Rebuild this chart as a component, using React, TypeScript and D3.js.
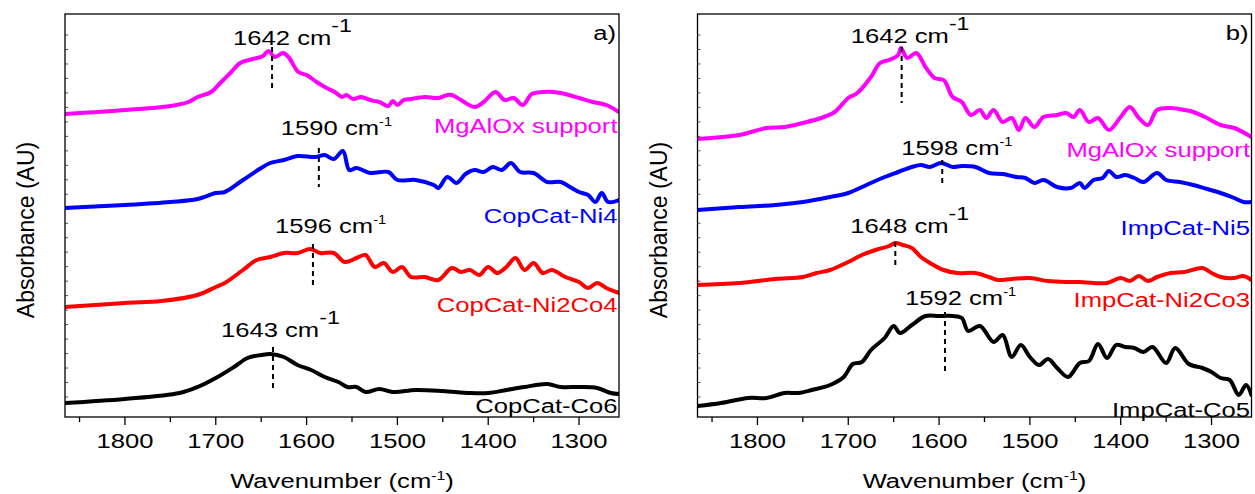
import React from 'react';
import * as d3 from 'd3';

type Pt = [number, number];

// ---------- axis data ----------
const xDomain: [number, number] = [1866, 1256];
const yDomain: [number, number] = [0, 4.03];
const xTicks = [1800, 1700, 1600, 1500, 1400, 1300];
const xMinorTicks = [1850, 1750, 1650, 1550, 1450, 1350];
const yMinorTicks = d3.range(0.2, 3.83, 0.1448);

// ---------- panel a series (wavenumber, absorbance offset) ----------
const aMgAlOx: Pt[] = [[1866,3.03],[1830,3.05],[1800,3.07],[1770,3.09],[1750,3.11],[1730,3.15],[1720,3.20],[1705,3.25],[1695,3.34],[1684,3.44],[1673,3.54],[1659,3.58],[1648,3.61],[1642,3.66],[1635,3.60],[1626,3.64],[1620,3.60],[1609,3.45],[1600,3.42],[1589,3.35],[1578,3.29],[1569,3.25],[1561,3.20],[1556,3.22],[1549,3.18],[1540,3.20],[1530,3.17],[1520,3.15],[1510,3.11],[1505,3.16],[1500,3.12],[1493,3.17],[1485,3.18],[1470,3.20],[1455,3.19],[1445,3.22],[1440,3.22],[1430,3.17],[1415,3.10],[1405,3.15],[1392,3.25],[1382,3.17],[1372,3.19],[1362,3.12],[1352,3.23],[1340,3.25],[1328,3.25],[1315,3.23],[1300,3.19],[1285,3.15],[1270,3.12],[1256,3.05]];
const aNi4: Pt[] = [[1866,2.09],[1800,2.12],[1750,2.15],[1720,2.18],[1700,2.24],[1690,2.25],[1670,2.37],[1650,2.49],[1640,2.54],[1625,2.57],[1610,2.61],[1590,2.60],[1580,2.62],[1570,2.58],[1560,2.66],[1553,2.47],[1545,2.49],[1530,2.44],[1510,2.45],[1500,2.37],[1480,2.37],[1460,2.32],[1455,2.29],[1445,2.40],[1435,2.34],[1425,2.43],[1415,2.47],[1405,2.45],[1395,2.50],[1385,2.47],[1375,2.54],[1365,2.45],[1350,2.44],[1335,2.35],[1320,2.35],[1310,2.30],[1300,2.25],[1290,2.22],[1282,2.15],[1275,2.24],[1268,2.15],[1256,2.17]];
const aNi2Co4: Pt[] = [[1866,1.10],[1800,1.14],[1760,1.16],[1720,1.22],[1700,1.30],[1690,1.34],[1670,1.47],[1655,1.57],[1640,1.60],[1625,1.64],[1610,1.64],[1596,1.68],[1585,1.64],[1570,1.64],[1558,1.55],[1545,1.59],[1535,1.62],[1525,1.50],[1515,1.54],[1505,1.45],[1495,1.50],[1485,1.40],[1470,1.40],[1455,1.37],[1440,1.49],[1430,1.45],[1420,1.47],[1410,1.42],[1400,1.50],[1390,1.44],[1380,1.50],[1370,1.59],[1360,1.47],[1350,1.54],[1340,1.44],[1330,1.47],[1315,1.40],[1300,1.35],[1290,1.29],[1280,1.34],[1270,1.29],[1256,1.24]];
const aCo6: Pt[] = [[1866,0.14],[1800,0.18],[1740,0.24],[1720,0.30],[1700,0.39],[1680,0.50],[1665,0.59],[1650,0.62],[1640,0.63],[1625,0.60],[1610,0.52],[1595,0.47],[1580,0.40],[1565,0.35],[1555,0.30],[1545,0.30],[1535,0.25],[1520,0.28],[1505,0.25],[1480,0.27],[1450,0.26],[1420,0.24],[1400,0.24],[1380,0.27],[1360,0.30],[1335,0.33],[1320,0.30],[1300,0.30],[1280,0.29],[1265,0.24],[1256,0.23]];

// ---------- panel b series ----------
const bMgAlOx: Pt[] = [[1866,2.78],[1820,2.82],[1790,2.89],[1770,2.90],[1750,2.94],[1730,2.99],[1715,3.05],[1700,3.19],[1690,3.24],[1675,3.40],[1665,3.54],[1655,3.57],[1645,3.62],[1642,3.69],[1635,3.59],[1625,3.64],[1615,3.50],[1605,3.39],[1595,3.37],[1585,3.20],[1575,3.15],[1565,3.02],[1555,3.07],[1548,2.99],[1540,3.07],[1530,2.95],[1520,2.99],[1512,2.87],[1505,2.99],[1495,2.90],[1485,3.00],[1470,3.02],[1460,3.04],[1452,3.00],[1445,3.07],[1435,2.95],[1425,2.99],[1413,2.87],[1400,3.00],[1390,3.10],[1380,2.99],[1370,2.92],[1360,3.07],[1345,3.09],[1330,3.07],[1320,3.05],[1305,2.99],[1290,2.92],[1275,2.89],[1256,2.80]];
const bNi5: Pt[] = [[1866,2.07],[1820,2.10],[1780,2.12],[1750,2.15],[1720,2.20],[1700,2.24],[1680,2.32],[1660,2.40],[1645,2.45],[1630,2.50],[1620,2.52],[1610,2.50],[1598,2.54],[1585,2.50],[1575,2.51],[1560,2.50],[1545,2.44],[1530,2.43],[1515,2.40],[1505,2.39],[1495,2.34],[1485,2.37],[1470,2.30],[1455,2.29],[1445,2.34],[1440,2.29],[1430,2.37],[1420,2.39],[1413,2.46],[1405,2.40],[1395,2.42],[1385,2.39],[1375,2.35],[1360,2.44],[1350,2.37],[1335,2.35],[1320,2.32],[1305,2.28],[1290,2.24],[1275,2.19],[1265,2.15],[1256,2.15]];
const bNi2Co3: Pt[] = [[1866,1.32],[1820,1.34],[1780,1.38],[1750,1.40],[1735,1.44],[1720,1.47],[1700,1.55],[1685,1.62],[1670,1.67],[1655,1.71],[1648,1.74],[1640,1.72],[1630,1.69],[1620,1.60],[1610,1.54],[1595,1.47],[1580,1.44],[1560,1.44],[1545,1.40],[1535,1.37],[1520,1.38],[1500,1.39],[1480,1.36],[1460,1.35],[1445,1.35],[1430,1.34],[1415,1.34],[1400,1.39],[1390,1.36],[1380,1.41],[1370,1.36],[1360,1.40],[1345,1.44],[1330,1.45],[1310,1.49],[1300,1.44],[1290,1.40],[1275,1.39],[1265,1.41],[1256,1.37]];
const bCo5: Pt[] = [[1866,0.11],[1840,0.14],[1810,0.19],[1790,0.19],[1770,0.24],[1755,0.24],[1740,0.27],[1720,0.32],[1705,0.40],[1695,0.53],[1685,0.55],[1675,0.67],[1660,0.79],[1650,0.91],[1643,0.84],[1630,0.92],[1615,1.01],[1600,1.01],[1585,1.01],[1575,0.99],[1568,0.86],[1555,0.91],[1540,0.75],[1530,0.82],[1520,0.60],[1510,0.72],[1500,0.60],[1490,0.52],[1480,0.58],[1470,0.49],[1458,0.40],[1445,0.54],[1435,0.56],[1425,0.73],[1415,0.59],[1405,0.72],[1395,0.70],[1385,0.69],[1375,0.65],[1365,0.70],[1350,0.54],[1340,0.69],[1325,0.53],[1310,0.49],[1300,0.45],[1290,0.39],[1280,0.37],[1270,0.22],[1262,0.32],[1256,0.22]];

// ---------- labels ----------
const aNames = ['MgAlOx support', 'CopCat-Ni4', 'CopCat-Ni2Co4', 'CopCat-Co6'];
const bNames = ['MgAlOx support', 'ImpCat-Ni5', 'ImpCat-Ni2Co3', 'ImpCat-Co5'];
const aNameLevels = [2.84, 1.94, 1.05, 0.04];
const bNameLevels = [2.60, 1.82, 1.10, 0.0];
const colors = ['#ff00ff', '#0000ff', '#ff0000', '#000000'];

// peak annotations: label, marker wavenumber, line top, line bottom, text level, big superscript
const aPeakLabels = ['1642', '1590', '1596', '1643'];
const aPeakW = [1638, 1586.5, 1593, 1637];
const aPeakTop = [3.70, 2.69, 1.73, 0.70];
const aPeakBottom = [3.29, 2.30, 1.30, 0.29];
const aPeakText = [3.72, 2.82, 1.84, 0.80];
const aPeakBig = [true, false, false, true];
const aPeakDx = [-39, -38, -38, -52];

const bPeakLabels = ['1642', '1598', '1648', '1592'];
const bPeakW = [1641.2, 1596.5, 1648.2, 1593.5];
const bPeakTop = [3.70, 2.57, 1.75, 1.05];
const bPeakBottom = [3.14, 2.32, 1.49, 0.45];
const bPeakText = [3.74, 2.62, 1.84, 1.12];
const bPeakBig = [true, false, true, false];
const bPeakDx = [-51, -41, -45, -40];

const FONT = "'Liberation Sans', Arial, Helvetica, sans-serif";
const SX = 1.22;
const TOP = 14;
const BOTTOM = 417;

interface PanelDef {
  tag: string;
  left: number;
  right: number;
  yLabelX: number;
  series: Pt[][];
  names: string[];
  nameLevels: number[];
  peakLabels: string[];
  peakW: number[];
  peakTop: number[];
  peakBottom: number[];
  peakText: number[];
  peakBig: boolean[];
  peakDx: number[];
}

const panels: PanelDef[] = [
  { tag: 'a)', left: 65, right: 619, yLabelX: 34, series: [aMgAlOx, aNi4, aNi2Co4, aCo6], names: aNames, nameLevels: aNameLevels,
    peakLabels: aPeakLabels, peakW: aPeakW, peakTop: aPeakTop, peakBottom: aPeakBottom, peakText: aPeakText, peakBig: aPeakBig, peakDx: aPeakDx },
  { tag: 'b)', left: 697.5, right: 1251.5, yLabelX: 667, series: [bMgAlOx, bNi5, bNi2Co3, bCo5], names: bNames, nameLevels: bNameLevels,
    peakLabels: bPeakLabels, peakW: bPeakW, peakTop: bPeakTop, peakBottom: bPeakBottom, peakText: bPeakText, peakBig: bPeakBig, peakDx: bPeakDx },
];

function Panel({ p, idx }: { p: PanelDef; idx: number }) {
  const x = d3.scaleLinear().domain(xDomain).range([p.left, p.right]);
  const y = d3.scaleLinear().domain(yDomain).range([BOTTOM, TOP]);
  const line = d3.line<Pt>().x(d => x(d[0])).y(d => y(d[1])).curve(d3.curveCatmullRom.alpha(0.5));
  const clipId = `clip-${idx}`;
  const cx = (p.left + p.right) / 2;
  return (
    <g>
      <defs>
        <clipPath id={clipId}>
          <rect x={p.left} y={TOP} width={p.right - p.left} height={BOTTOM - TOP} />
        </clipPath>
      </defs>
      {/* y minor ticks (inward, faint) */}
      {yMinorTicks.map((t, i) => (
        <line key={'ym' + i} x1={p.left} x2={p.left + 3} y1={y(t)} y2={y(t)} stroke="#555" strokeWidth={1} />
      ))}
      {/* curves */}
      <g clipPath={`url(#${clipId})`}>
        {p.series.map((s, i) => (
          <path key={i} d={line(s) || ''} fill="none" stroke={colors[i]} strokeWidth={4} strokeLinejoin="round" strokeLinecap="round" />
        ))}
      </g>
      {/* peak markers */}
      {p.peakW.map((w, i) => (
        <line key={'pk' + i} x1={x(w)} x2={x(w)} y1={y(p.peakTop[i])} y2={y(p.peakBottom[i])} stroke="#000" strokeWidth={2} strokeDasharray="5,4" />
      ))}
      {p.peakW.map((w, i) => {
        const big = p.peakBig[i];
        return (
          <text key={'pt' + i} transform={`translate(${x(w) + p.peakDx[i]},${y(p.peakText[i])}) scale(${SX},1)`} fontFamily={FONT} fontSize={21} fill="#000">
            <tspan>{p.peakLabels[i]} cm</tspan>
            <tspan dy={big ? -13 : -9} fontSize={big ? 19 : 12}>-1</tspan>
          </text>
        );
      })}
      {/* series names */}
      {p.names.map((n, i) => (
        <text key={'nm' + i} transform={`translate(${p.right - 1.5},${y(p.nameLevels[i])}) scale(${SX},1)`} textAnchor="end" fontFamily={FONT} fontSize={21} fill={colors[i]}>{n}</text>
      ))}
      {/* frame */}
      <rect x={p.left} y={TOP} width={p.right - p.left} height={BOTTOM - TOP} fill="none" stroke="#000" strokeWidth={1.3} />
      {/* x ticks */}
      {xTicks.map(t => (
        <line key={'xt' + t} x1={x(t)} x2={x(t)} y1={BOTTOM} y2={BOTTOM + 8} stroke="#000" strokeWidth={1.3} />
      ))}
      {xMinorTicks.map(t => (
        <line key={'xm' + t} x1={x(t)} x2={x(t)} y1={BOTTOM} y2={BOTTOM + 5} stroke="#000" strokeWidth={1.3} />
      ))}
      {xTicks.map(t => (
        <text key={'xl' + t} transform={`translate(${x(t)},448) scale(${SX},1)`} textAnchor="middle" fontFamily={FONT} fontSize={21} fill="#000">{t}</text>
      ))}
      {/* x label */}
      <text transform={`translate(${cx},488) scale(${SX},1)`} textAnchor="middle" fontFamily={FONT} fontSize={21} fill="#000">
        <tspan>Wavenumber (cm</tspan>
        <tspan dy={-8} fontSize={13}>-1</tspan>
        <tspan dy={8}>)</tspan>
      </text>
      {/* y label */}
      <text transform={`translate(${p.yLabelX},230) rotate(-90)`} textAnchor="middle" fontFamily={FONT} fontSize={23} fill="#000">Absorbance (AU)</text>
      {/* panel tag */}
      <text transform={`translate(${p.right - 3},40) scale(${SX},1)`} textAnchor="end" fontFamily={FONT} fontSize={21} fill="#000">{p.tag}</text>
    </g>
  );
}

export default function App() {
  return (
    <svg width={1255} height={494} viewBox="0 0 1255 494" style={{ position: 'absolute', left: 0, top: 0, background: '#fff' }}>
      <rect x={0} y={0} width={1255} height={494} fill="#fff" />
      {panels.map((p, i) => <Panel key={i} p={p} idx={i} />)}
    </svg>
  );
}
